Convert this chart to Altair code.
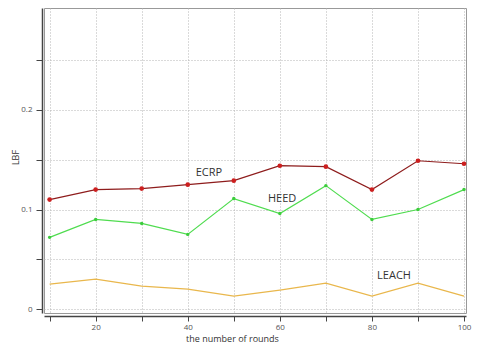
import altair as alt
import pandas as pd

rounds = [10, 20, 30, 40, 50, 60, 70, 80, 90, 100]
ecrp = [0.110, 0.120, 0.121, 0.125, 0.129, 0.144, 0.143, 0.120, 0.149, 0.146]
heed = [0.072, 0.090, 0.086, 0.075, 0.111, 0.096, 0.124, 0.090, 0.100, 0.120]
leach = [0.025, 0.030, 0.023, 0.020, 0.013, 0.019, 0.026, 0.013, 0.026, 0.013]

series_names = ["ECRP", "HEED", "LEACH"]
line_colors = ["#8e1c1c", "#4fdc4f", "#e9b74c"]
point_colors = ["#cc1f1f", "#3ccc3c", "#e9b74c"]
label_x = [44.6, 60.5, 84.8]
label_y = [0.1364, 0.111, 0.033]

x_ticks = [10, 20, 30, 40, 50, 60, 70, 80, 90, 100]
y_ticks = [0, 0.05, 0.1, 0.15, 0.2, 0.25]

rows = []
for name, vals in zip(series_names, [ecrp, heed, leach]):
    for r, v in zip(rounds, vals):
        rows.append({"round": r, "lbf": v, "series": name})
df = pd.DataFrame(rows)
lab = pd.DataFrame({"series": series_names, "x": label_x, "y": label_y})

FONT = "Open Sans"
xscale = alt.Scale(domain=[8.78, 100.43], nice=False, zero=False)
yscale = alt.Scale(domain=[-0.004, 0.3025], nice=False, zero=False)

xaxis = alt.Axis(
    values=x_ticks, labelExpr="datum.value % 20 == 0 ? datum.label : ''",
    labelOverlap=False, grid=True, gridColor="#b5b5b5", gridDash=[1, 2],
    offset=3, tickSize=5, tickColor="#444", domainColor="#444", domainWidth=1.5,
    labelFont=FONT, labelFontSize=8, labelColor="#555", labelPadding=2,
    labelBound=False, labelFlush=False,
    title="the number of rounds", titleFont=FONT, titleFontSize=9,
    titleFontWeight="normal", titleColor="#333", titleX=188, titleY=22,
    titleBaseline="middle", titleAnchor="middle",
)
yaxis = alt.Axis(
    values=y_ticks,
    labelExpr="datum.value == 0 ? '0' : ((abs(datum.value - 0.1) < 0.000001 || abs(datum.value - 0.2) < 0.000001) ? format(datum.value, '.1f') : '')",
    labelOverlap=False, grid=True, gridColor="#b5b5b5", gridDash=[1, 2],
    offset=2, tickSize=6, tickColor="#444", domainColor="#444", domainWidth=1.5,
    labelFont=FONT, labelFontSize=8, labelColor="#555", labelPadding=4,
    title="LBF", titleFont=FONT, titleFontSize=9, titleFontWeight="normal",
    titleColor="#333", titleX=-27, titleY=149, titleBaseline="middle",
    titleAnchor="middle",
)

lines = alt.Chart(df).mark_line(strokeWidth=1.2).encode(
    x=alt.X("round:Q", scale=xscale, axis=xaxis),
    y=alt.Y("lbf:Q", scale=yscale, axis=yaxis),
    color=alt.Color("series:N", scale=alt.Scale(domain=series_names, range=line_colors), legend=None),
)

points = alt.Chart(df).transform_filter(
    alt.FieldOneOfPredicate(field="series", oneOf=["ECRP", "HEED"])
).mark_circle(opacity=1).encode(
    x=alt.X("round:Q", scale=xscale),
    y=alt.Y("lbf:Q", scale=yscale),
    color=alt.Color("series:N", scale=alt.Scale(domain=series_names, range=point_colors), legend=None),
    size=alt.Size("series:N", scale=alt.Scale(domain=["ECRP", "HEED"], range=[22, 12]), legend=None),
)

texts = alt.Chart(lab).mark_text(font=FONT, fontSize=11, color="#333").encode(
    x=alt.X("x:Q", scale=xscale),
    y=alt.Y("y:Q", scale=yscale),
    text="series:N",
)

chart = alt.layer(lines, points, texts).resolve_scale(color="independent").properties(
    width=422, height=305,
    autosize=alt.AutoSizeParams(type="none"),
    padding={"left": 36, "top": 0, "right": 6, "bottom": 30},
).configure_view(stroke="#999", strokeWidth=1)

chart.save("out.html", embed_options={"renderer": "svg", "actions": False})
